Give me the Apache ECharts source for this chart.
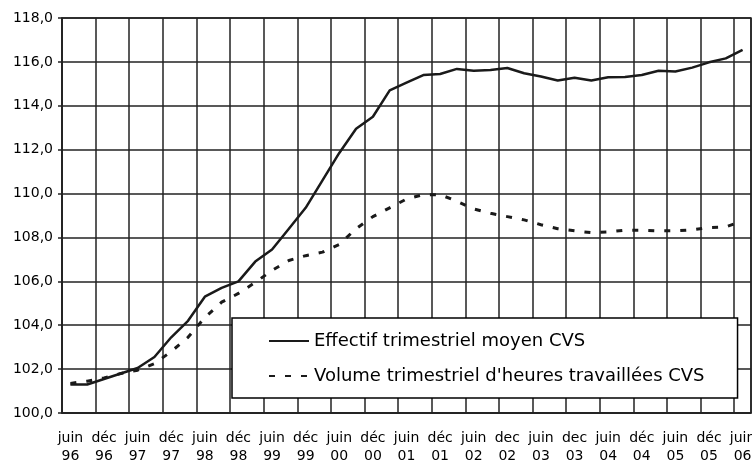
<!DOCTYPE html>
<html>
<head>
<meta charset="utf-8">
<script src="https://cdn.jsdelivr.net/npm/echarts@6/dist/echarts.min.js"></script>
<style>
  html, body { margin: 0; padding: 0; background: #fff; }
  #chart { width: 752px; height: 465px; }
</style>
</head>
<body>
<div id="chart"></div>
<script>
// trimestres (un label sur deux est affiché)
const quarters = [
  'juin 96', 'sept 96', 'déc 96', 'mars 97', 'juin 97', 'sept 97', 'déc 97', 'mars 98',
  'juin 98', 'sept 98', 'déc 98', 'mars 99', 'juin 99', 'sept 99', 'déc 99', 'mars 00',
  'juin 00', 'sept 00', 'déc 00', 'mars 01', 'juin 01', 'sept 01', 'déc 01', 'mars 02',
  'juin 02', 'sept 02', 'dec 02', 'mars 03', 'juin 03', 'sept 03', 'dec 03', 'mars 04',
  'juin 04', 'sept 04', 'déc 04', 'mars 05', 'juin 05', 'sept 05', 'déc 05', 'mars 06',
  'juin 06'
];

const effectif = [
  101.3, 101.3, 101.55, 101.8, 102.05, 102.55, 103.45, 104.2, 105.3, 105.7,
  106.0, 106.9, 107.45, 108.4, 109.35, 110.6, 111.85, 112.95, 113.5, 114.7,
  115.05, 115.4, 115.45, 115.68, 115.6, 115.63, 115.72, 115.48, 115.33, 115.15,
  115.28, 115.15, 115.3, 115.31, 115.4, 115.6, 115.56, 115.74, 115.98, 116.16,
  116.55
];

const volume = [
  101.35, 101.45, 101.6, 101.8, 101.95, 102.25, 102.8, 103.45, 104.35, 105.05,
  105.45, 105.95, 106.5, 106.95, 107.17, 107.33, 107.68, 108.4, 108.95, 109.35,
  109.75, 109.95, 109.95, 109.65, 109.3, 109.1, 108.95, 108.8, 108.58, 108.4,
  108.3, 108.22, 108.25, 108.33, 108.33, 108.3, 108.3, 108.35, 108.45, 108.48,
  108.75
];

const seriesNames = ['Effectif trimestriel moyen CVS', "Volume trimestriel d'heures travaillées CVS"];

const gridColor = '#222';
const font = 'DejaVu Sans';

const chart = echarts.init(document.getElementById('chart'), null, { renderer: 'canvas' });

chart.setOption({
  backgroundColor: '#fff',
  animation: false,
  textStyle: { fontFamily: font, color: '#000' },
  grid: {
    left: 62, right: 1, top: 18, bottom: 52,
    containLabel: false,
    outerBoundsMode: 'none',
    show: true, borderColor: gridColor, borderWidth: 1.5, backgroundColor: 'transparent'
  },
  legend: {
    orient: 'vertical',
    left: 232,
    top: 318,
    padding: [14, 33, 13, 36],
    itemGap: 17,
    itemWidth: 40,
    itemHeight: 18,
    backgroundColor: '#fff',
    borderColor: '#000',
    borderWidth: 1.5,
    borderRadius: 0,
    itemStyle: { opacity: 0 },
    textStyle: { fontFamily: font, fontSize: 18, color: '#000', lineHeight: 18 },
    data: seriesNames
  },
  xAxis: {
    type: 'category',
    data: quarters,
    boundaryGap: true,
    axisLine: { lineStyle: { color: gridColor, width: 1.5 } },
    axisTick: { interval: 1, length: 4, lineStyle: { color: gridColor, width: 1.5 } },
    splitLine: { show: true, interval: 1, lineStyle: { color: gridColor, width: 1.5 } },
    axisLabel: {
      interval: 1,
      margin: 16,
      fontSize: 14,
      lineHeight: 18,
      color: '#000',
      fontFamily: font,
      formatter: v => v.replace(' ', '\n')
    }
  },
  yAxis: {
    type: 'value',
    min: 100,
    max: 118,
    interval: 2,
    axisLine: { show: true, lineStyle: { color: gridColor, width: 1.5 } },
    axisTick: { show: true, length: 4, lineStyle: { color: gridColor, width: 1.5 } },
    splitLine: { show: true, lineStyle: { color: gridColor, width: 1.5 } },
    axisLabel: {
      margin: 9,
      fontSize: 14,
      color: '#000',
      fontFamily: font,
      formatter: v => v.toFixed(1).replace('.', ',')
    }
  },
  series: [
    {
      name: seriesNames[0],
      type: 'line',
      data: effectif,
      symbol: 'none',
      lineStyle: { color: '#1a1a1a', width: 2.5 },
      itemStyle: { color: '#1a1a1a' }
    },
    {
      name: seriesNames[1],
      type: 'line',
      data: volume,
      symbol: 'none',
      lineStyle: { color: '#1a1a1a', width: 3, type: [6, 10] },
      itemStyle: { color: '#1a1a1a' }
    }
  ]
});
</script>
</body>
</html>
